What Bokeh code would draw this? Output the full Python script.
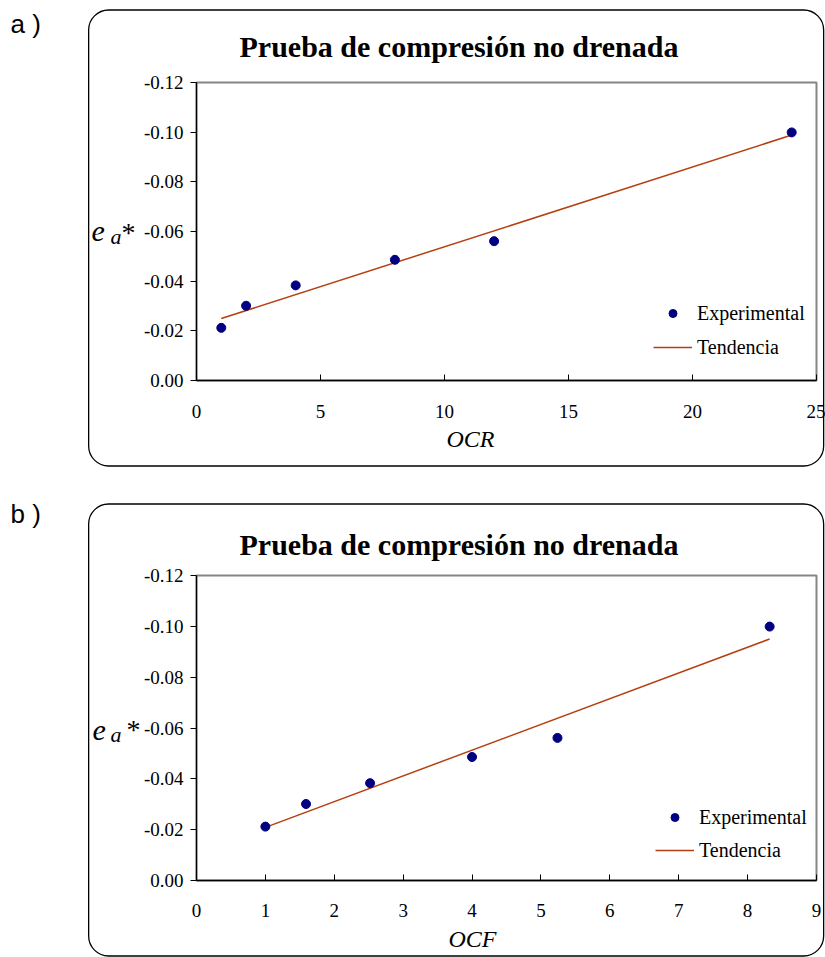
import numpy as np
from urllib.parse import quote
from bokeh.plotting import figure
from bokeh.models import (Range1d, FixedTicker, NumeralTickFormatter, Label,
                          Legend, LegendItem)
from bokeh.layouts import column
from bokeh.embed import file_html
from bokeh.resources import INLINE

# ---------------- data ----------------
ocr = [1, 2, 4, 8, 12, 24]
ocf = [1.00, 1.59, 2.52, 4.00, 5.24, 8.32]
ea_star = [-0.0212, -0.0301, -0.0383, -0.0486, -0.0561, -0.0999]
y_ticks = [0.00, -0.02, -0.04, -0.06, -0.08, -0.10, -0.12]
x_ticks_a = [0, 5, 10, 15, 20, 25]
x_ticks_b = [0, 1, 2, 3, 4, 5, 6, 7, 8, 9]
title_text = "Prueba de compresión no drenada"
legend_labels = ["Experimental", "Tendencia"]

SERIF = "Liberation Serif"
SANS = "Liberation Sans"
PT_COLOR = "#000080"
LN_COLOR = "#B5400F"


def frame_bg(height, top, bottom):
    svg = ("<svg xmlns='http://www.w3.org/2000/svg' width='825' height='%d'>"
           "<rect x='88.65' y='%.2f' width='735' height='%.2f' rx='20' ry='20' "
           "fill='none' stroke='black' stroke-width='1.3'/></svg>"
           % (height, top, bottom - top))
    return {"background-image": 'url("data:image/svg+xml;charset=utf-8,%s")' % quote(svg),
            "background-repeat": "no-repeat",
            "background-position": "0 0",
            "background-color": "white"}


def make_panel(x, xmax, xticks, xlabel, tag, height, mb_right, mb_top, mb_bottom,
               box_top, box_bottom, tag_y, title_y, ylab, xlab_pos, leg_loc,
               leg_spacing, xstand):
    p = figure(width=825, height=height, x_range=Range1d(0, xmax),
               y_range=Range1d(0, -0.12), output_backend="svg",
               toolbar_location=None, min_border_left=196,
               min_border_right=mb_right, min_border_top=mb_top,
               min_border_bottom=mb_bottom,
               styles=frame_bg(height, box_top, box_bottom))
    p.xgrid.visible = False
    p.ygrid.visible = False
    p.outline_line_color = "#858585"
    p.outline_line_width = 2
    p.background_fill_color = None
    p.border_fill_color = None

    ax = p.xaxis[0]
    ax.ticker = FixedTicker(ticks=xticks)
    ax.major_tick_in = 6
    ax.major_tick_out = 0
    ax.minor_tick_line_color = None
    ax.major_label_standoff = xstand
    ax.major_label_text_font = SERIF
    ax.major_label_text_font_size = "19px"
    ax.major_label_text_color = "black"
    ax.axis_line_width = 1.3
    ax.axis_line_color = "black"
    ax.major_tick_line_color = "black"

    ay = p.yaxis[0]
    ay.ticker = FixedTicker(ticks=y_ticks)
    ay.formatter = NumeralTickFormatter(format="0.00")
    ay.major_tick_in = 0
    ay.major_tick_out = 6
    ay.minor_tick_line_color = None
    ay.major_label_standoff = 7
    ay.major_label_text_font = SERIF
    ay.major_label_text_font_size = "19px"
    ay.major_label_text_color = "black"
    ay.axis_line_width = 1.3
    ay.axis_line_color = "black"
    ay.major_tick_line_color = "black"

    fit = np.polyfit(x, ea_star, 1)
    xs = [x[0], x[-1]]
    ys = list(np.polyval(fit, xs))
    ln = p.line(xs, ys, line_color=LN_COLOR, line_width=1.5)
    sc = p.scatter(x, ea_star, size=9, fill_color=PT_COLOR, line_color=PT_COLOR)

    leg = Legend(items=[LegendItem(label=legend_labels[0], renderers=[sc]),
                        LegendItem(label=legend_labels[1], renderers=[ln])],
                 location=leg_loc, glyph_width=39, glyph_height=20,
                 label_height=20, label_standoff=5, spacing=leg_spacing, padding=0,
                 margin=0, border_line_color=None, background_fill_alpha=0,
                 label_text_font=SERIF, label_text_font_size="20px",
                 label_text_color="black")
    p.add_layout(leg)

    def lab(place, xx, yy, text, font, size, style="normal", align="left"):
        p.add_layout(Label(x=xx, y=yy, x_units="canvas", y_units="canvas",
                           text=text, text_font=font, text_font_size=size,
                           text_font_style=style, text_align=align,
                           text_baseline="alphabetic", text_color="black"), place)

    lab("above", 10, tag_y, tag, SANS, "26px")
    lab("above", 458.5, title_y, title_text, SERIF, "30px", "bold", "center")
    (ex, ey), (ax_, ay_), (sx, sy) = ylab
    lab("left", ex, ey, "e", SERIF, "30px", "italic")
    lab("left", ax_, ay_, "a", SERIF, "22px", "italic")
    lab("left", sx, sy, "*", SERIF, "28px")
    lab("left", xlab_pos[0], xlab_pos[1], xlabel, SERIF, "24px", "italic", "center")
    return p


pa = make_panel(ocr, 25, x_ticks_a, "OCR", "a )", 490, 9, 82, 110,
                10, 466, 23, 46,
                ((91, 231), (110, 236), (121, 232)), (470, 438), (457, 21.5), 11, 24)
pb = make_panel(ocf, 9, x_ticks_b, "OCF", "b )", 467, 5, 85, 77,
                14, 466, 23, 53.7,
                ((92, 240), (110, 244), (126, 239)), (472, 448), (459, 18.5), 10, 23)

layout = column(pa, pb, spacing=0)
open("out.html", "w").write(file_html(layout, INLINE))
